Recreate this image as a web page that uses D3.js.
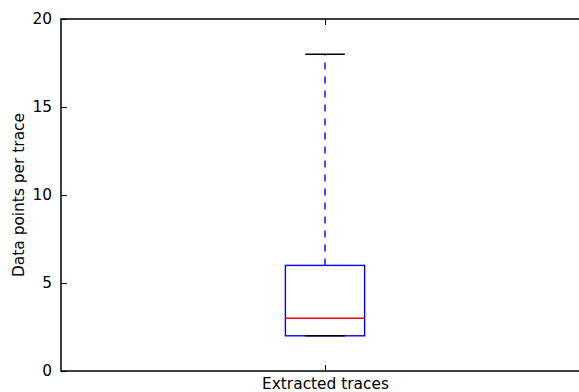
<!DOCTYPE html>
<html>
<head>
<meta charset="utf-8">
<script src="https://cdn.jsdelivr.net/npm/d3@7"></script>
<style>
  body { margin: 0; background: #fff; }
  text { font-family: "DejaVu Sans", sans-serif; }
</style>
</head>
<body>
<svg id="chart" width="579" height="392"></svg>
<script>
// box statistics
const categories = ["Extracted traces"];
const boxStats = [{q1: 2, median: 3, q3: 6, whiskerLow: 2, whiskerHigh: 18}];
const yTicks = [0, 5, 10, 15, 20];

const margin = {top: 19, left: 61};
const plotW = 528, plotH = 352;
const fs = 15.4;

const svg = d3.select("#chart");
const g = svg.append("g")
    .attr("transform", "translate(" + margin.left + "," + margin.top + ")");

const x = d3.scaleLinear().domain([0.5, 1.5]).range([0, plotW]);
const y = d3.scaleLinear().domain([0, 20]).range([plotH, 0]);

// frame
g.append("rect")
    .attr("width", plotW).attr("height", plotH)
    .attr("fill", "none").attr("stroke", "#000").attr("stroke-width", 1.5);

// y axis, ticks pointing inwards
const yAxis = g.append("g")
    .call(d3.axisLeft(y).tickValues(yTicks).tickSize(-6).tickPadding(9));
yAxis.select(".domain").remove();
yAxis.selectAll("text").attr("font-size", fs).attr("fill", "#000");
yAxis.selectAll("line").attr("stroke", "#000");

// y ticks on the right side too (mostly cropped)
g.append("g")
    .attr("transform", "translate(" + plotW + ",0)")
    .call(d3.axisRight(y).tickValues(yTicks).tickSize(-6).tickFormat(""))
    .select(".domain").remove();

// x axis
const xAxis = g.append("g")
    .attr("transform", "translate(0," + plotH + ")")
    .call(d3.axisBottom(x).tickValues([1]).tickSize(-6).tickPadding(7.5)
        .tickFormat((d, i) => categories[i]));
xAxis.select(".domain").remove();
xAxis.selectAll("text").attr("font-size", fs).attr("fill", "#000");

g.append("g")
    .call(d3.axisTop(x).tickValues([1]).tickSize(-6).tickFormat(""))
    .select(".domain").remove();

// y label
svg.append("text")
    .attr("transform", "translate(24," + (margin.top + plotH / 2) + ") rotate(-90)")
    .attr("text-anchor", "middle")
    .attr("font-size", fs)
    .text("Data points per trace");

// boxes
const boxW = 0.15, capW = 0.075;
const box = g.selectAll(".box").data(boxStats).enter().append("g");

box.append("line")
    .attr("x1", (d, i) => x(i + 1)).attr("x2", (d, i) => x(i + 1))
    .attr("y1", d => y(d.q3)).attr("y2", d => y(d.whiskerHigh))
    .attr("stroke", "#0000ff").attr("stroke-width", 1.4).attr("stroke-dasharray", "7,7");
box.append("line")
    .attr("x1", (d, i) => x(i + 1)).attr("x2", (d, i) => x(i + 1))
    .attr("y1", d => y(d.q1)).attr("y2", d => y(d.whiskerLow))
    .attr("stroke", "#0000ff").attr("stroke-width", 1.4).attr("stroke-dasharray", "7,7");

box.append("rect")
    .attr("x", (d, i) => x(i + 1 - boxW / 2))
    .attr("width", x(1 + boxW) - x(1))
    .attr("y", d => y(d.q3))
    .attr("height", d => y(d.q1) - y(d.q3))
    .attr("fill", "none").attr("stroke", "#0000ff").attr("stroke-width", 1.4);

box.append("line")
    .attr("x1", (d, i) => x(i + 1 - boxW / 2)).attr("x2", (d, i) => x(i + 1 + boxW / 2))
    .attr("y1", d => y(d.median)).attr("y2", d => y(d.median))
    .attr("stroke", "#ff0000").attr("stroke-width", 1.4);

["whiskerHigh", "whiskerLow"].forEach(k => {
  box.append("line")
      .attr("x1", (d, i) => x(i + 1 - capW / 2)).attr("x2", (d, i) => x(i + 1 + capW / 2))
      .attr("y1", d => y(d[k])).attr("y2", d => y(d[k]))
      .attr("stroke", "#000").attr("stroke-width", 1.4);
});
</script>
</body>
</html>
